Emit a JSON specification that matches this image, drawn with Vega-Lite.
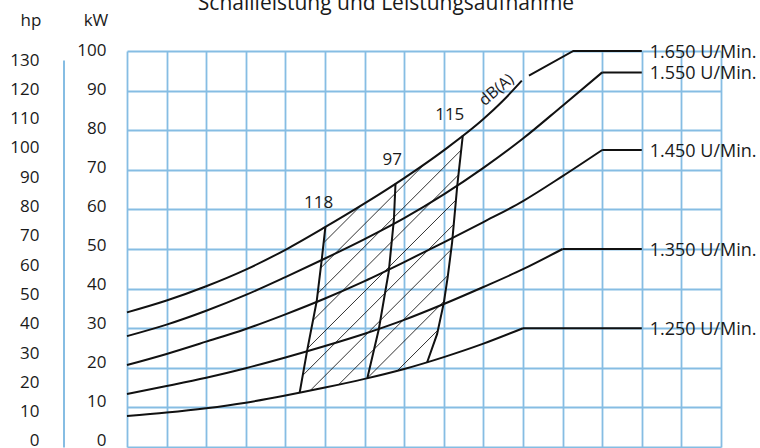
{
"$schema":"https://vega.github.io/schema/vega-lite/v6.json",
"width":594,"height":396,
"autosize":{"type":"none"},
"padding":{"left":127,"top":51,"right":39,"bottom":1},
"background":"#ffffff",
"title":{"text":"Schallleistung und Leistungsaufnahme","fontSize":21,"fontWeight":"normal","font":"Open Sans","color":"#1a1a1a","anchor":"middle","frame":"group","dx":-38,"dy":2,"offset":0},
"config":{"view":{"stroke":null},"axis":{"labelFont":"Open Sans","titleFont":"Open Sans","labelColor":"#1a1a1a","titleColor":"#1a1a1a","labelFontSize":17,"titleFontSize":17,"titleFontWeight":"normal","gridColor":"#86bde3","gridWidth":1.8,"gridOpacity":1,"domainColor":"#86bde3","labelOverlap":false,"labelFlush":false}},
"datasets":{
"curves":[
{"s":"1250","x":0,"kW":7.8},{"s":"1250","x":1,"kW":8.7},{"s":"1250","x":2,"kW":9.8},{"s":"1250","x":3,"kW":11.2},{"s":"1250","x":4,"kW":13.0},{"s":"1250","x":5,"kW":15.0},{"s":"1250","x":6,"kW":17.2},{"s":"1250","x":7,"kW":19.7},{"s":"1250","x":8,"kW":22.7},{"s":"1250","x":9,"kW":26.1},{"s":"1250","x":10,"kW":30},
{"s":"1350","x":0,"kW":13.4},{"s":"1350","x":1,"kW":15.4},{"s":"1350","x":2,"kW":17.5},{"s":"1350","x":3,"kW":19.9},{"s":"1350","x":4,"kW":22.6},{"s":"1350","x":5,"kW":25.5},{"s":"1350","x":6,"kW":28.6},{"s":"1350","x":7,"kW":32.1},{"s":"1350","x":8,"kW":36.1},{"s":"1350","x":9,"kW":40.4},{"s":"1350","x":10,"kW":44.9},{"s":"1350","x":11,"kW":50},
{"s":"1450","x":0,"kW":20.7},{"s":"1450","x":1,"kW":23.5},{"s":"1450","x":2,"kW":26.6},{"s":"1450","x":3,"kW":29.8},{"s":"1450","x":4,"kW":33.5},{"s":"1450","x":5,"kW":37.5},{"s":"1450","x":6,"kW":41.9},{"s":"1450","x":7,"kW":46.7},{"s":"1450","x":8,"kW":51.7},{"s":"1450","x":9,"kW":56.8},{"s":"1450","x":10,"kW":62.1},{"s":"1450","x":11,"kW":68.4},{"s":"1450","x":12,"kW":75},
{"s":"1550","x":0,"kW":28.0},{"s":"1550","x":1,"kW":30.9},{"s":"1550","x":2,"kW":34.4},{"s":"1550","x":3,"kW":38.4},{"s":"1550","x":4,"kW":42.9},{"s":"1550","x":5,"kW":47.6},{"s":"1550","x":6,"kW":52.5},{"s":"1550","x":7,"kW":57.8},{"s":"1550","x":8,"kW":63.8},{"s":"1550","x":9,"kW":70.5},{"s":"1550","x":10,"kW":77.9},{"s":"1550","x":11,"kW":86.2},{"s":"1550","x":12,"kW":94.6},
{"s":"1650","x":0,"kW":34.0},{"s":"1650","x":1,"kW":37.0},{"s":"1650","x":2,"kW":40.6},{"s":"1650","x":3,"kW":44.8},{"s":"1650","x":4,"kW":49.8},{"s":"1650","x":5,"kW":55.5},{"s":"1650","x":6,"kW":61.5},{"s":"1650","x":7,"kW":67.9},{"s":"1650","x":8,"kW":74.9},{"s":"1650","x":9,"kW":82.8},{"s":"1650","x":9.5,"kW":87.5},{"s":"1650","x":9.97,"kW":92.5}
],
"flats":[
{"s":"1250","x":10,"kW":30},{"s":"1250","x":13,"kW":30},
{"s":"1350","x":11,"kW":50},{"s":"1350","x":13,"kW":50},
{"s":"1450","x":12,"kW":75},{"s":"1450","x":13,"kW":75},
{"s":"1550","x":12,"kW":94.6},{"s":"1550","x":13,"kW":94.6},
{"s":"1650","x":10.15,"kW":93.8},{"s":"1650","x":11.27,"kW":100},{"s":"1650","x":13,"kW":100}
],
"bounds":[
{"b":"118","x":4.36,"kW":13.7},{"b":"118","x":4.55,"kW":24.4},{"b":"118","x":4.79,"kW":36.8},{"b":"118","x":4.92,"kW":47.5},{"b":"118","x":5.01,"kW":55.6},
{"b":"97","x":6.07,"kW":17.4},{"b":"97","x":6.36,"kW":29.8},{"b":"97","x":6.53,"kW":39.7},{"b":"97","x":6.61,"kW":44.3},{"b":"97","x":6.74,"kW":57.4},{"b":"97","x":6.78,"kW":66.5},
{"b":"115","x":7.58,"kW":21.4},{"b":"115","x":7.83,"kW":28.5},{"b":"115","x":8.0,"kW":36.4},{"b":"115","x":8.1,"kW":43.0},{"b":"115","x":8.21,"kW":51.7},{"b":"115","x":8.34,"kW":66.0},{"b":"115","x":8.48,"kW":78.7}
],
"hatch":[
{"h":1,"x":4.96,"kW":51.5},{"h":1,"x":5.9,"kW":60.9},
{"h":2,"x":4.89,"kW":45.2},{"h":2,"x":7.53,"kW":71.6},
{"h":3,"x":4.81,"kW":38.7},{"h":3,"x":8.44,"kW":75.0},
{"h":4,"x":4.70,"kW":32.0},{"h":4,"x":8.37,"kW":68.7},
{"h":5,"x":4.56,"kW":24.9},{"h":5,"x":8.31,"kW":62.4},
{"h":6,"x":4.43,"kW":18.0},{"h":6,"x":8.25,"kW":56.2},
{"h":7,"x":4.625,"kW":14.25},{"h":7,"x":8.19,"kW":49.9},
{"h":8,"x":5.346,"kW":15.76},{"h":8,"x":8.10,"kW":43.3},
{"h":9,"x":6.067,"kW":17.37},{"h":9,"x":8.0,"kW":36.75},
{"h":10,"x":6.827,"kW":19.27},{"h":10,"x":7.85,"kW":29.5}
],
"marks":[
{"t":"118","x":4.84,"kW":61.7},{"t":"97","x":6.70,"kW":72.4},{"t":"115","x":8.15,"kW":83.8}
],
"rpm":[
{"t":"1.650 U/Min.","x":13.2,"kW":100},{"t":"1.550 U/Min.","x":13.2,"kW":94.6},{"t":"1.450 U/Min.","x":13.2,"kW":75},{"t":"1.350 U/Min.","x":13.2,"kW":50},{"t":"1.250 U/Min.","x":13.2,"kW":30}
],
"note":[{"t":"dB(A)","x":9.33,"kW":90.2}],
"ref":[{"kW":0,"hp":0},{"kW":100,"hp":130}]
},
"layer":[
{
"encoding":{
"x":{"field":"x","type":"quantitative","scale":{"domain":[0,15],"nice":false,"zero":false},"axis":{"values":[0,1,2,3,4,5,6,7,8,9,10,11,12,13,14,15],"grid":true,"labels":false,"ticks":false,"domain":false,"title":null}},
"y":{"field":"kW","type":"quantitative","scale":{"domain":[0,100],"nice":false},"axis":{"values":[0,10,20,30,40,50,60,70,80,90,100],"grid":true,"labels":false,"ticks":false,"domain":false,"title":null}}
},
"layer":[
{"data":{"name":"hatch"},"mark":{"type":"line","color":"#1a1a1a","strokeWidth":0.9},"encoding":{"detail":{"field":"h"}}},
{"data":{"name":"curves"},"mark":{"type":"line","interpolate":"monotone","color":"#111111","strokeWidth":2},"encoding":{"detail":{"field":"s"}}},
{"data":{"name":"flats"},"mark":{"type":"line","color":"#111111","strokeWidth":2},"encoding":{"detail":{"field":"s"}}},
{"data":{"name":"bounds"},"mark":{"type":"line","color":"#111111","strokeWidth":2},"encoding":{"detail":{"field":"b"}}},
{"data":{"name":"marks"},"mark":{"type":"text","font":"Open Sans","fontSize":17,"color":"#1a1a1a","align":"center","baseline":"middle"},"encoding":{"text":{"field":"t"}}},
{"data":{"name":"rpm"},"mark":{"type":"text","font":"Open Sans","fontSize":18,"color":"#1a1a1a","align":"left","baseline":"middle","dy":2},"encoding":{"text":{"field":"t"}}},
{"data":{"name":"note"},"mark":{"type":"text","font":"Open Sans","fontSize":16,"color":"#1a1a1a","align":"center","baseline":"middle","angle":-40},"encoding":{"text":{"field":"t"}}}
]
},
{"data":{"name":"ref"},"mark":{"type":"point","opacity":0},"encoding":{"y":{"field":"kW","type":"quantitative","scale":{"domain":[0,100],"range":[389,-1],"nice":false},"axis":{"orient":"left","values":[0,10,20,30,40,50,60,70,80,90,100],"grid":false,"ticks":false,"domain":false,"labelPadding":21,"title":"kW","titleAngle":0,"titleAlign":"center","titleBaseline":"middle","titleX":-31.5,"titleY":-30.5}}}},
{"data":{"name":"ref"},"mark":{"type":"point","opacity":0},"encoding":{"y":{"field":"hp","type":"quantitative","scale":{"domain":[-2.05,130],"range":[396,9],"nice":false,"zero":false},"axis":{"orient":"left","offset":63.5,"values":[0,10,20,30,40,50,60,70,80,90,100,110,120,130],"grid":false,"ticks":false,"domain":true,"domainColor":"#86bde3","domainWidth":2,"labelPadding":24.5,"title":"hp","titleAngle":0,"titleAlign":"center","titleBaseline":"middle","titleX":-33,"titleY":-30.5}}}}
],
"resolve":{"scale":{"y":"independent"},"axis":{"y":"independent"}}
}
